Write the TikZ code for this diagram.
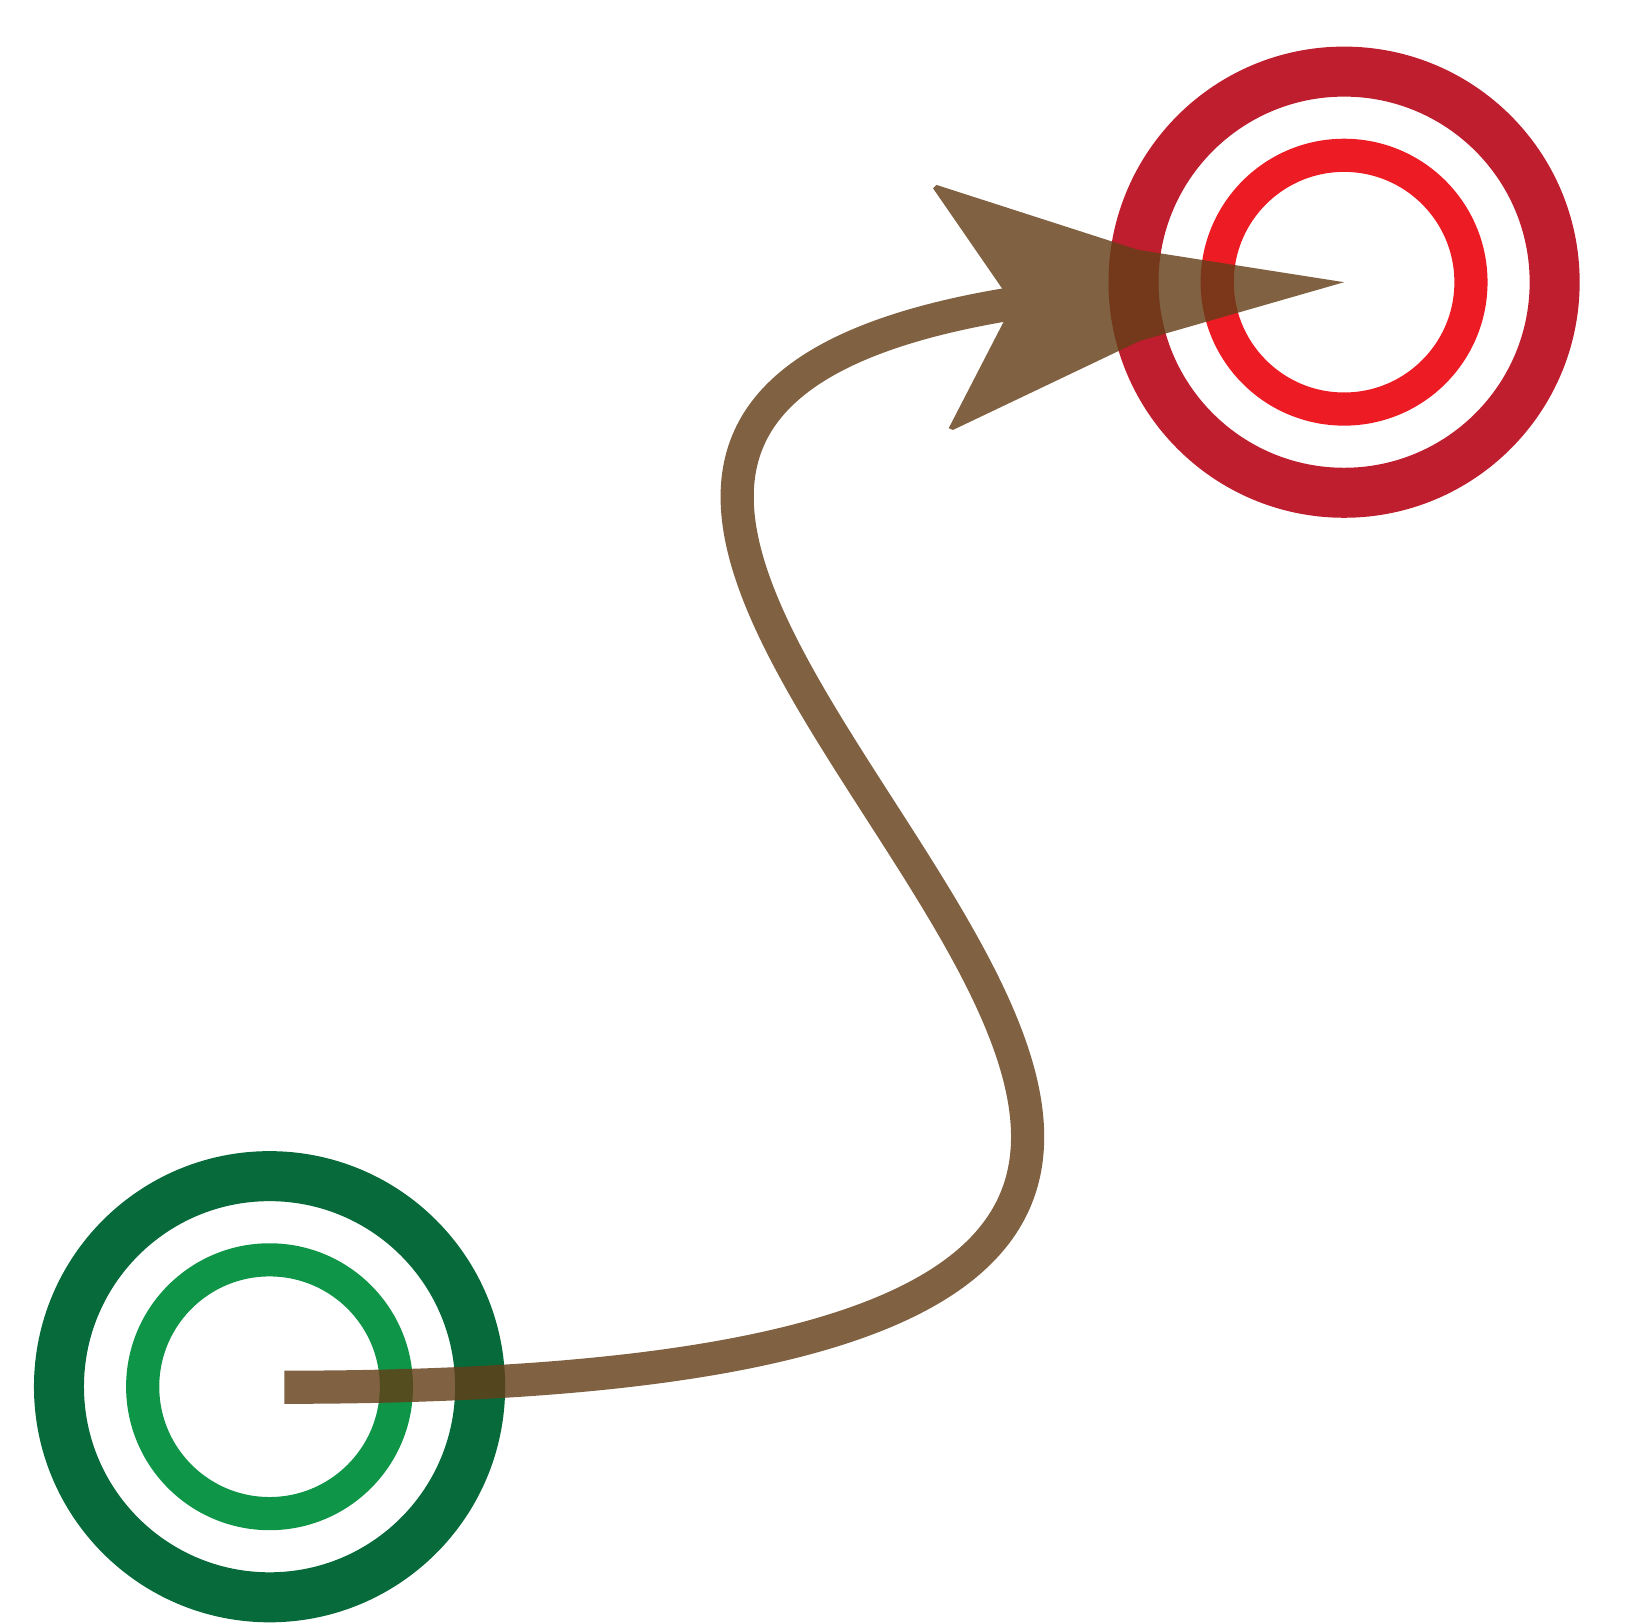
\documentclass[tikz,border=0pt]{standalone}
\definecolor{darkred}{HTML}{BE1E2D}
\definecolor{brightred}{HTML}{ED1C24}
\definecolor{darkgreen}{HTML}{066A3A}
\definecolor{lightgreen}{HTML}{0E9547}
\definecolor{arrowbrown}{RGB}{100,62,24}
\begin{document}
\begin{tikzpicture}[x=1pt,y=-1pt,
  outerring/.style={circle,draw,line width=47.5pt,minimum size=400pt,inner sep=0pt},
  innerring/.style={circle,draw,line width=31.5pt,minimum size=241pt,inner sep=0pt},
  connector/.style={draw=arrowbrown,line width=31.5pt,line cap=butt},
  head/.style={fill=arrowbrown}]
\useasboundingbox (0,0) rectangle (1568,1541);
\node[outerring,draw=darkgreen] (gout) at (256,1317) {};
\node[innerring,draw=lightgreen] (gin) at (256,1317) {};
\node[outerring,draw=darkred] (rout) at (1276.5,268) {};
\node[innerring,draw=brightred] (rin) at (1276.5,268) {};
\coordinate (start) at (270,1317.5);
\coordinate (tip) at (rout.center);
\coordinate (c1) at (1962.5,1317.5);
\coordinate (c2) at (-72.8,370.3);
\coordinate (stop) at (1068.4,275.6);
\begin{scope}[transparency group, opacity=0.82]
\draw[connector] (start) .. controls (c1) and (c2) .. (stop);
\begin{scope}[shift={(tip)}]
\fill[head] (0,0) -- (-195.7,-30.7) -- (-387.2,-92.4) -- (-390.4,-89.2)
  -- (-324.9,5.8) -- (-323.6,38.1) -- (-375.5,138.7) -- (-371.4,140.3)
  -- (-194.1,55.8) -- cycle;
\end{scope}
\end{scope}
\end{tikzpicture}
\end{document}
